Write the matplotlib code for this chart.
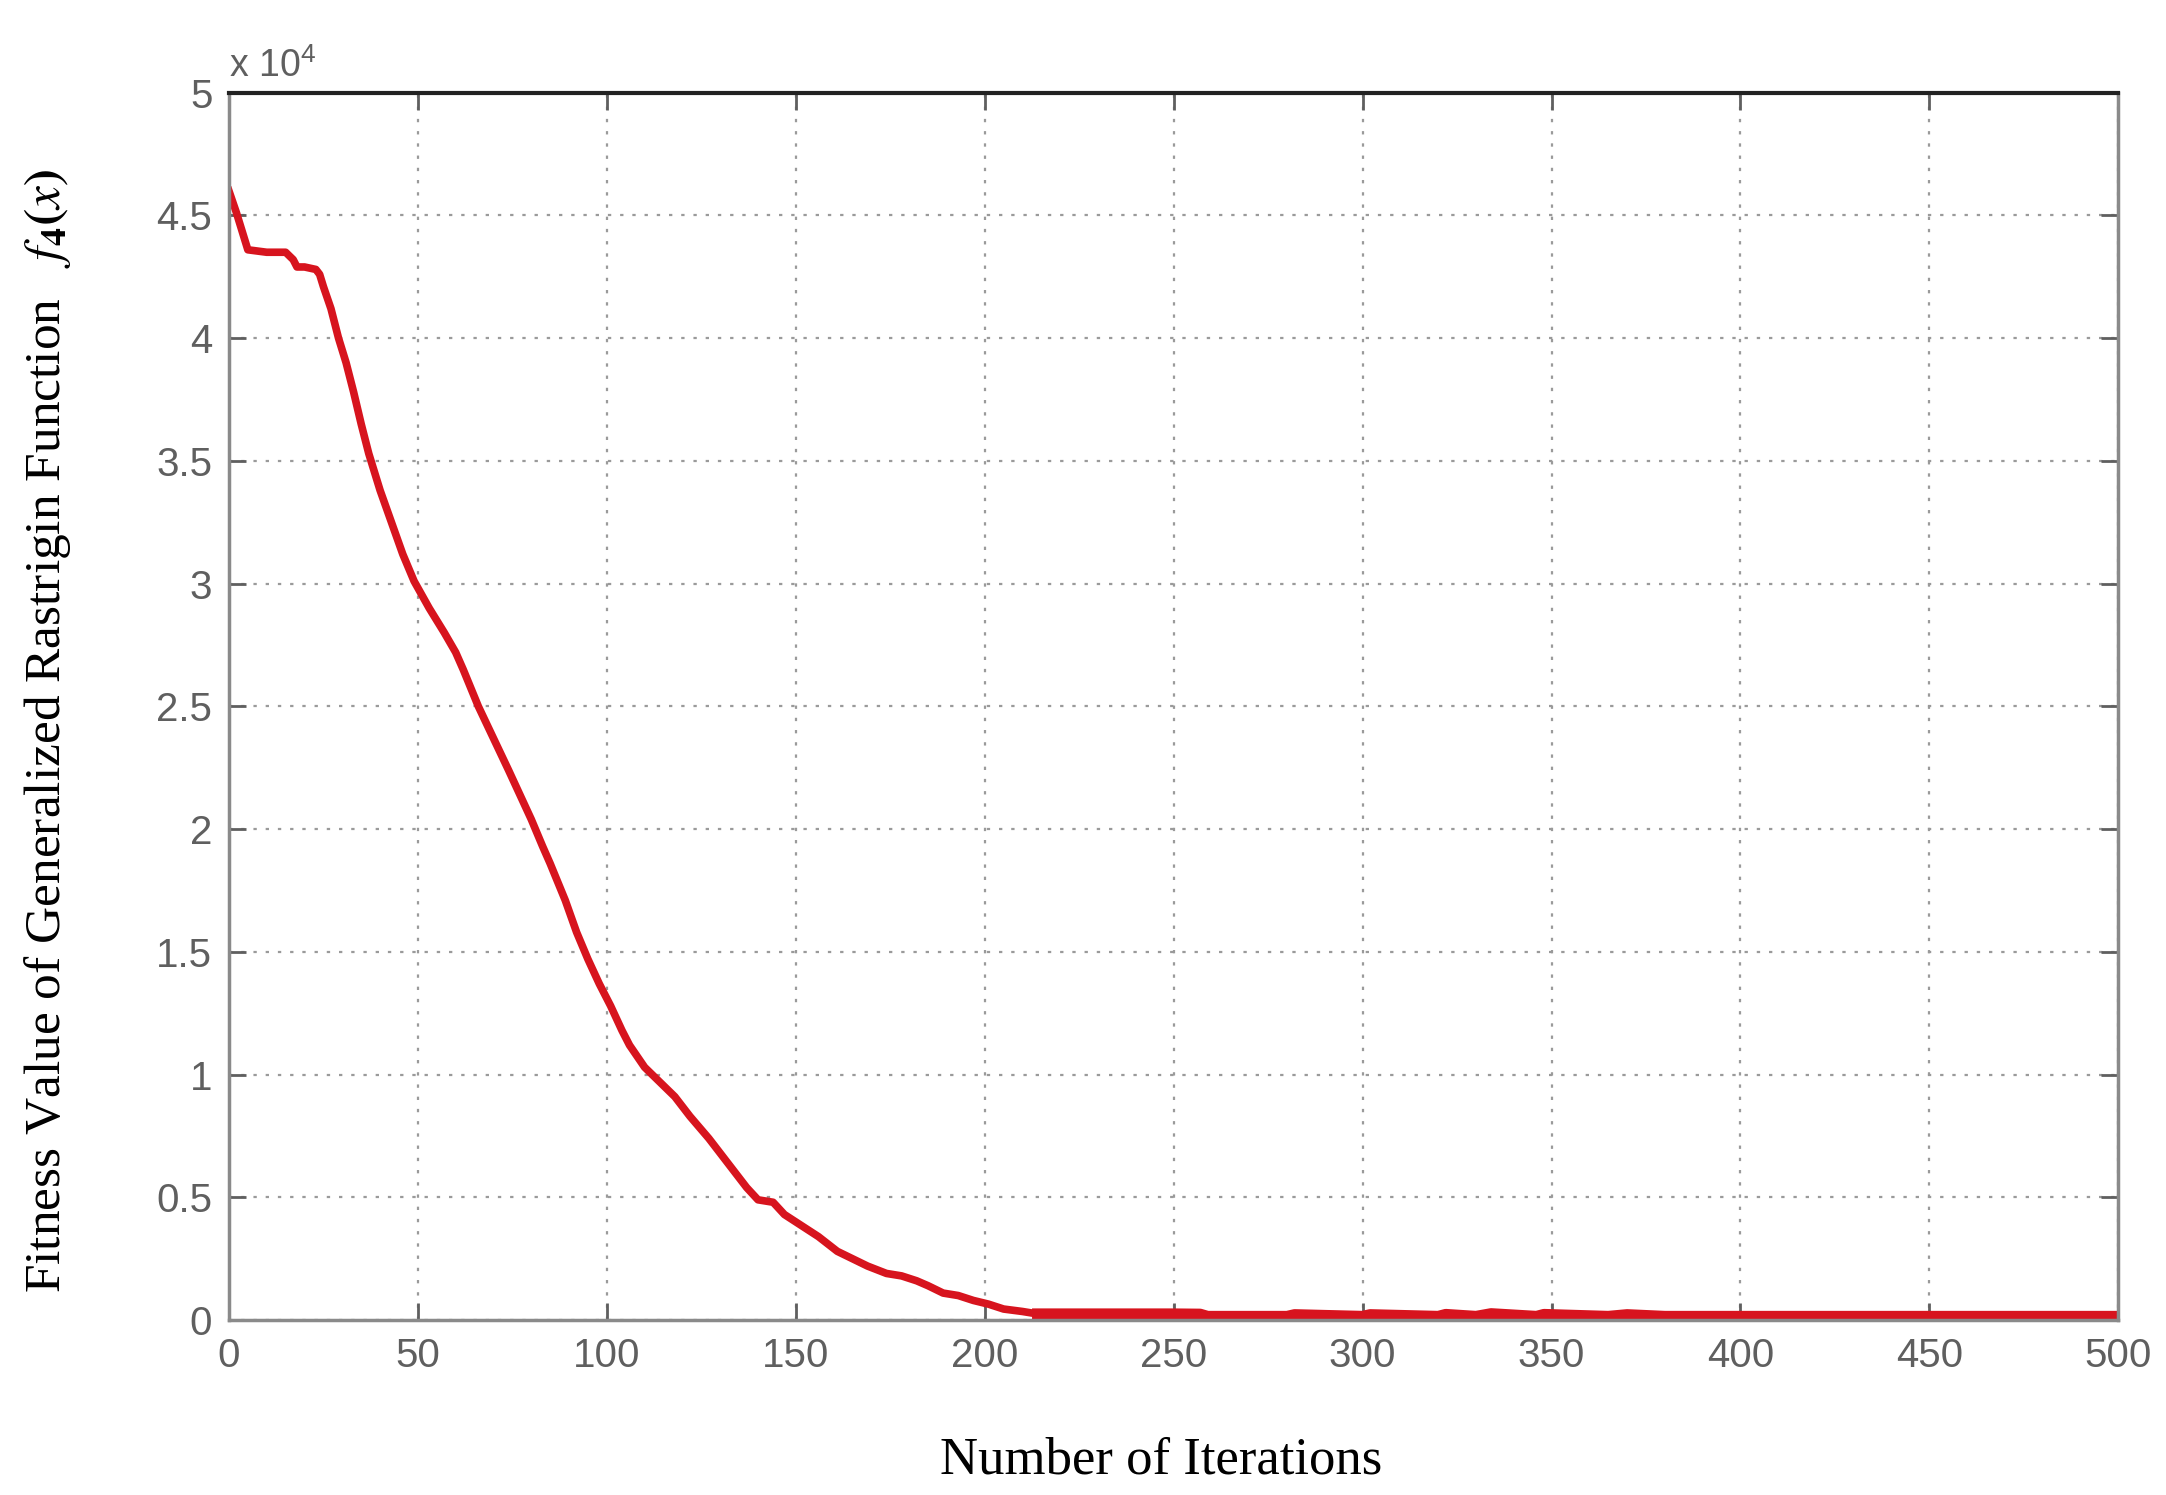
import matplotlib
matplotlib.use('Agg')
import matplotlib.pyplot as plt
from matplotlib.ticker import FuncFormatter
from matplotlib import font_manager

plt.rcParams['mathtext.fontset'] = 'stix'

# Convergence curve (iteration, fitness)
iterations = [0, 2, 5, 10, 15, 17, 18, 20, 23, 24, 25, 27, 29, 31, 33, 35, 37, 40, 43, 46,
              49, 53, 57, 60, 62, 66, 70, 74, 77, 80, 83, 85, 89, 92, 95, 98, 101, 104,
              106, 110, 114, 118, 122, 127, 130, 134, 137, 140, 144, 147, 151, 156, 161,
              165, 169, 174, 178, 182, 185, 189, 193, 197, 201, 205, 210, 214, 220, 230,
              240, 250, 257, 259, 270, 280, 282, 300, 302, 320, 322, 330, 334, 346, 348,
              365, 370, 380, 400, 450, 500]
fitness = [46000, 45100, 43600, 43500, 43500, 43200, 42900, 42900, 42800, 42600, 42100, 41200,
           40000, 39000, 37800, 36500, 35300, 33800, 32500, 31200,
           30100, 29000, 28000, 27200, 26500, 25000, 23700, 22400, 21400, 20400, 19300, 18600,
           17100, 15800, 14700, 13700, 12800, 11800,
           11200, 10300, 9700, 9100, 8300, 7400, 6800, 6000, 5400, 4900, 4800, 4300,
           3900, 3400, 2800, 2500, 2200, 1900, 1800, 1600, 1400, 1100, 1000, 800,
           650, 450, 350, 250, 250, 250,
           250, 250, 240, 150, 150, 150, 220, 150, 220, 150, 230, 150, 260, 150, 230,
           150, 220, 150, 150, 150, 150]

x_ticks = list(range(0, 501, 50))
y_ticks = list(range(0, 50001, 5000))

red = '#d7141e'
tick_grey = '#5f5f5f'

# narrow sans like the MATLAB export, if it is there
names = {f.name for f in font_manager.fontManager.ttflist}
tick_font = 'Liberation Sans Narrow' if 'Liberation Sans Narrow' in names else 'Liberation Sans'
tick_size = 34 if tick_font == 'Liberation Sans Narrow' else 29

fig = plt.figure(figsize=(21.66, 14.95), dpi=100)
ax = fig.add_axes([0.1057, 0.117, 0.8723, 0.821])

ax.plot(iterations, fitness, color=red, linewidth=5.5, solid_joinstyle='round')
# the flat tail reads as a thicker band in the original
tail = [i for i, x in enumerate(iterations) if x >= 214]
ax.plot([iterations[i] for i in tail], [fitness[i] for i in tail], color=red, linewidth=8)

ax.set_xlim(0, 500)
ax.set_ylim(0, 50000)
ax.set_xticks(x_ticks)
ax.set_yticks(y_ticks)
ax.yaxis.set_major_formatter(FuncFormatter(lambda v, p: '%g' % (v / 1e4)))

ax.grid(True, linestyle=(0, (1.5, 4)), color='#9a9a9a', linewidth=1.6)
ax.tick_params(direction='in', length=12, width=2, top=True, right=True,
               colors=tick_grey, labelsize=tick_size, pad=12)
for lab in ax.get_xticklabels() + ax.get_yticklabels():
    lab.set_family(tick_font)
for side in ['left', 'bottom', 'right']:
    ax.spines[side].set_color('#8a8a8a')
    ax.spines[side].set_linewidth(2.5)
ax.spines['top'].set_color('#222222')
ax.spines['top'].set_linewidth(3)

ax.text(0.0, 1.006, r'x 10$^{\mathregular{4}}$', transform=ax.transAxes, ha='left',
        va='bottom', fontsize=27, color=tick_grey, family=tick_font)

fig.text(0.536, 0.0234, 'Number of Iterations', ha='center', va='center',
         fontsize=38, family='Liberation Serif')
fig.text(0.022, 0.511, r'Fitness Value of Generalized Rastrigin Function   $\mathbf{\mathit{f}_4(\mathit{x})}$',
         rotation=90, ha='center', va='center', fontsize=37, family='Liberation Serif')

fig.savefig('out.png', dpi=100)
